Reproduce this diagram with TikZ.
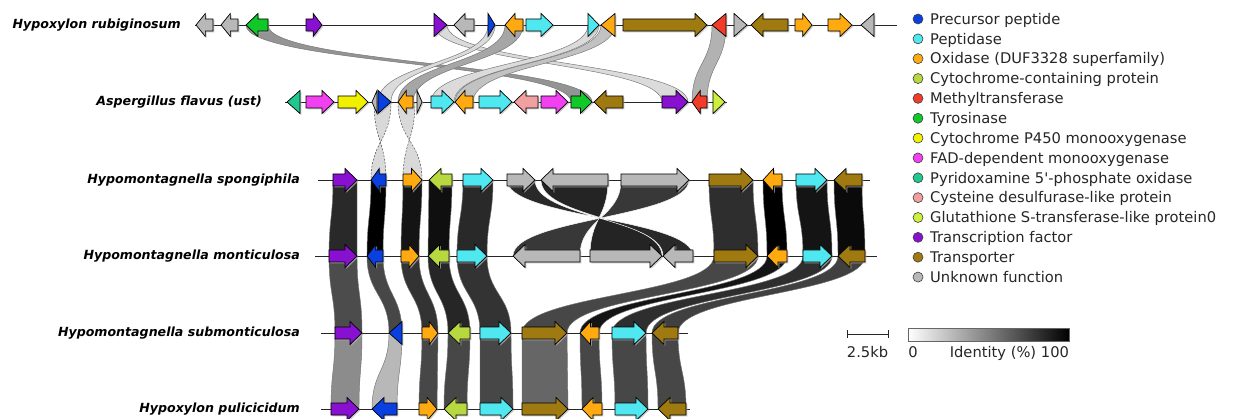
\documentclass[tikz,border=0pt]{standalone}
\usepackage{fontspec}
\setmainfont{DejaVu Sans}
\newfontfamily\nolig{DejaVu Sans}[Ligatures=TeXOff]
\definecolor{cPre}{RGB}{10,64,224}
\definecolor{cPep}{RGB}{80,232,240}
\definecolor{cOx}{RGB}{255,170,16}
\definecolor{cCyt}{RGB}{184,216,64}
\definecolor{cMet}{RGB}{240,60,40}
\definecolor{cTyr}{RGB}{16,200,40}
\definecolor{cPfs}{RGB}{240,240,0}
\definecolor{cFAD}{RGB}{240,64,240}
\definecolor{cPyr}{RGB}{32,200,144}
\definecolor{cCys}{RGB}{240,160,160}
\definecolor{cGst}{RGB}{204,240,60}
\definecolor{cTF}{RGB}{136,16,208}
\definecolor{cTr}{RGB}{158,122,16}
\definecolor{cUnk}{RGB}{184,184,184}
\tikzset{
  genestyle/.style={draw=black, line width=0.7pt, line join=miter},
  geneshadow/.style={fill=black!30, opacity=0.7},
  ribstyle/.style={draw=black!55, line width=0.45pt},
  ribdash/.style={draw=black!70, line width=0.5pt, dashed, dash pattern=on 2pt off 1.5pt},
  trackline/.style={draw=black!85, line width=0.8pt},
  lbl/.style={font=\fontsize{12.6}{14}\selectfont\bfseries\itshape, inner sep=0pt, anchor=east},
  legtext/.style={font=\fontsize{14.7}{16}\selectfont, inner sep=0pt, anchor=base west, text=black!85},
}
% gene arrow: x1, x2, y, dir (1 right / -1 left), colour
\newcommand\genearrow[5]{%
  \pgfmathsetmacro\gL{#2-#1}%
  \pgfmathsetmacro\gh{\gL<=14 ? \gL : min(12,0.55*\gL)}%
  \pgfmathsetmacro\gt{#4>0 ? #2 : #1}%
  \pgfmathsetmacro\gs{#4>0 ? #1 : #2}%
  \pgfmathsetmacro\gm{\gt-(#4)*\gh}%
  \fill[geneshadow, shift={(1.3,1.3)}] (\gs,#3-6) -- (\gm,#3-6) -- (\gm,#3-11.5) -- (\gt,#3) -- (\gm,#3+11.5) -- (\gm,#3+6) -- (\gs,#3+6) -- cycle;
  \filldraw[genestyle, fill=#5] (\gs,#3-6) -- (\gm,#3-6) -- (\gm,#3-11.5) -- (\gt,#3) -- (\gm,#3+11.5) -- (\gm,#3+6) -- (\gs,#3+6) -- cycle;
}
% ribbon: a1, a2, y1, b1, b2, y2, style
\newcommand\rib[7]{%
  \pgfmathsetmacro\ym{(#3+#6)/2}%
  \filldraw[ribstyle,#7] (#1,#3) -- (#2,#3) .. controls (#2,\ym) and (#5,\ym) .. (#5,#6) -- (#4,#6) .. controls (#4,\ym) and (#1,\ym) .. (#1,#3) -- cycle;
}
\begin{document}
\begin{tikzpicture}[x=1pt,y=-1pt]
\useasboundingbox (0,0) rectangle (1233,419);
\fill[white] (0,0) rectangle (1233,419);
\clip (0,0) rectangle (1233,419);

% ---------- ribbons 1 -> 2
\rib{246}{268}{25}{571}{592}{102}{fill=black!42}
\rib{434}{447}{25}{662}{688}{102}{fill=black!14}
\rib{505}{523}{25}{398}{413}{102}{fill=black!35}
\rib{488}{495}{25}{378}{391}{102}{fill=black!14}
\rib{601}{615}{25}{455}{473}{102}{fill=black!24}
\rib{588}{599}{25}{431}{454}{102}{fill=black!14}
\rib{712}{726}{25}{692}{707}{102}{fill=black!30}
% ---------- ribbons 2 -> 3 (inverted, dashed)
\rib{374}{391}{102}{386}{371}{180}{ribdash,fill=black!15}
\rib{398}{415}{102}{422}{403}{180}{ribdash,fill=black!15}
% ---------- ribbons 3 -> 4
\rib{333}{357}{180}{329}{357}{256}{fill=black!84}
\rib{371}{386}{180}{367}{383}{256}{fill=black}
\rib{403}{422}{180}{401}{419}{256}{fill=black!92}
\rib{429}{452}{180}{428}{449}{256}{fill=black!94}
\rib{463}{493}{180}{457}{487}{256}{fill=black!84}
\rib{621}{689}{180}{580}{513}{256}{fill=black!78,draw=white}
\rib{541}{608}{180}{662}{590}{256}{fill=black!86,draw=white}
\rib{507}{535}{180}{693}{663}{256}{fill=black!84,draw=white}
\rib{709}{753}{180}{714}{758}{256}{fill=black!82}
\rib{763}{782}{180}{767}{787}{256}{fill=black}
\rib{796}{827}{180}{803}{832}{256}{fill=black!92}
\rib{834}{862}{180}{838}{865}{256}{fill=black!96}
% ---------- ribbons 4 -> 5
\rib{329}{357}{256}{335}{362}{333}{fill=black!70}
\rib{367}{383}{256}{389}{402}{333}{fill=black!72}
\rib{401}{419}{256}{422}{438}{333}{fill=black!80}
\rib{428}{449}{256}{448}{470}{333}{fill=black!85}
\rib{457}{487}{256}{480}{511}{333}{fill=black!80}
\rib{838}{865}{256}{652}{678}{333}{fill=black!75}
\rib{803}{832}{256}{612}{646}{333}{fill=black!82}
\rib{767}{787}{256}{580}{599}{333}{fill=black!92}
\rib{714}{758}{256}{522}{567}{333}{fill=black!72}
% ---------- ribbons 5 -> 6
\rib{335}{362}{333}{331}{359}{409}{fill=black!45}
\rib{389}{402}{333}{372}{397}{409}{fill=black!28}
\rib{422}{438}{333}{419}{437}{409}{fill=black!72}
\rib{448}{470}{333}{444}{467}{409}{fill=black!72}
\rib{480}{511}{333}{480}{513}{409}{fill=black!72}
\rib{522}{567}{333}{522}{568}{409}{fill=black!60}
\rib{580}{599}{333}{582}{602}{409}{fill=black!72}
\rib{612}{646}{333}{615}{648}{409}{fill=black!72}
\rib{652}{678}{333}{658}{686}{409}{fill=black!72}

% ---------- track lines
\draw[trackline] (195,25) -- (897,25);
\draw[trackline] (285,102) -- (727,102);
\draw[trackline] (318,180) -- (870,180);
\draw[trackline] (315,256) -- (877,256);
\draw[trackline] (321,333) -- (688,333);
\draw[trackline] (321,409) -- (690,409);

% ---------- track 1
\genearrow{196}{213}{25}{-1}{cUnk}
\genearrow{221}{238}{25}{-1}{cUnk}
\genearrow{246}{268}{25}{-1}{cTyr}
\genearrow{306}{322}{25}{1}{cTF}
\genearrow{434}{447}{25}{1}{cTF}
\genearrow{454}{474}{25}{-1}{cUnk}
\genearrow{488}{495}{25}{1}{cPre}
\genearrow{505}{523}{25}{-1}{cOx}
\genearrow{526}{553}{25}{1}{cPep}
\genearrow{588}{599}{25}{1}{cPep}
\genearrow{601}{615}{25}{-1}{cOx}
\genearrow{623}{707}{25}{1}{cTr}
\genearrow{712}{726}{25}{-1}{cMet}
\genearrow{734}{747}{25}{1}{cUnk}
\genearrow{751}{788}{25}{-1}{cTr}
\genearrow{795}{812}{25}{1}{cOx}
\genearrow{828}{852}{25}{1}{cOx}
\genearrow{861}{874}{25}{-1}{cUnk}
% ---------- track 2
\genearrow{287}{300}{102}{-1}{cPyr}
\genearrow{306}{334}{102}{1}{cFAD}
\genearrow{338}{368}{102}{1}{cPfs}
\genearrow{372}{377}{102}{-1}{cUnk}
\genearrow{378}{391}{102}{1}{cPre}
\genearrow{398}{413}{102}{-1}{cOx}
\genearrow{417}{422}{102}{1}{cUnk}
\genearrow{431}{454}{102}{1}{cPep}
\genearrow{455}{473}{102}{-1}{cOx}
\genearrow{479}{512}{102}{1}{cPep}
\genearrow{514}{538}{102}{-1}{cCys}
\genearrow{541}{568}{102}{1}{cFAD}
\genearrow{571}{592}{102}{1}{cTyr}
\genearrow{594}{623}{102}{-1}{cTr}
\genearrow{662}{688}{102}{1}{cTF}
\genearrow{692}{707}{102}{-1}{cMet}
\genearrow{713}{725}{102}{1}{cGst}
% ---------- track 3
\genearrow{333}{357}{180}{1}{cTF}
\genearrow{371}{386}{180}{-1}{cPre}
\genearrow{403}{422}{180}{1}{cOx}
\genearrow{429}{452}{180}{-1}{cCyt}
\genearrow{463}{493}{180}{1}{cPep}
\genearrow{507}{535}{180}{1}{cUnk}
\genearrow{541}{608}{180}{-1}{cUnk}
\genearrow{621}{689}{180}{1}{cUnk}
\genearrow{709}{753}{180}{1}{cTr}
\genearrow{763}{782}{180}{-1}{cOx}
\genearrow{796}{827}{180}{1}{cPep}
\genearrow{834}{862}{180}{-1}{cTr}
% ---------- track 4
\genearrow{329}{357}{256}{1}{cTF}
\genearrow{367}{383}{256}{-1}{cPre}
\genearrow{401}{419}{256}{1}{cOx}
\genearrow{428}{449}{256}{-1}{cCyt}
\genearrow{457}{487}{256}{1}{cPep}
\genearrow{513}{580}{256}{-1}{cUnk}
\genearrow{590}{662}{256}{1}{cUnk}
\genearrow{663}{693}{256}{-1}{cUnk}
\genearrow{714}{758}{256}{1}{cTr}
\genearrow{767}{787}{256}{-1}{cOx}
\genearrow{803}{832}{256}{1}{cPep}
\genearrow{838}{865}{256}{-1}{cTr}
% ---------- track 5
\genearrow{335}{362}{333}{1}{cTF}
\genearrow{389}{402}{333}{-1}{cPre}
\genearrow{422}{438}{333}{1}{cOx}
\genearrow{448}{470}{333}{-1}{cCyt}
\genearrow{480}{511}{333}{1}{cPep}
\genearrow{522}{567}{333}{1}{cTr}
\genearrow{580}{599}{333}{-1}{cOx}
\genearrow{612}{646}{333}{1}{cPep}
\genearrow{652}{678}{333}{-1}{cTr}
% ---------- track 6
\genearrow{331}{359}{409}{1}{cTF}
\genearrow{372}{397}{409}{-1}{cPre}
\genearrow{419}{437}{409}{1}{cOx}
\genearrow{444}{467}{409}{-1}{cCyt}
\genearrow{480}{513}{409}{1}{cPep}
\genearrow{522}{568}{409}{1}{cTr}
\genearrow{582}{602}{409}{-1}{cOx}
\genearrow{615}{648}{409}{1}{cPep}
\genearrow{658}{686}{409}{-1}{cTr}

% ---------- track labels
\node[lbl] (l1) at (181,25) {Hypoxylon rubiginosum};
\node[lbl] (l2) at (262,102) {Aspergillus flavus (ust)};
\node[lbl] (l3) at (300,180) {Hypomontagnella spongiphila};
\node[lbl] (l4) at (300,256) {Hypomontagnella monticulosa};
\node[lbl] (l5) at (300,333) {Hypomontagnella submonticulosa};
\node[lbl] (l6) at (300,409) {Hypoxylon pulicicidum};

% ---------- legend
\foreach \col/\txt [count=\i from 0] in {
  cPre/Precursor peptide,
  cPep/Peptidase,
  cOx/Oxidase (DUF3328 superfamily),
  cCyt/Cytochrome-containing protein,
  cMet/Methyltransferase,
  cTyr/Tyrosinase,
  cPfs/Cytochrome P450 monooxygenase,
  cFAD/FAD-dependent monooxygenase,
  cPyr/Pyridoxamine 5{\nolig\symbol{39}}-phosphate oxidase,
  cCys/Cysteine desulfurase-like protein,
  cGst/Glutathione S-transferase-like protein0,
  cTF/Transcription factor,
  cTr/Transporter,
  cUnk/Unknown function}{
  \pgfmathsetmacro\ly{19+\i*19.85}
  \filldraw[fill=\col, draw=black!75, line width=0.6pt] (918,\ly) circle (5pt);
  \node[legtext] (leg\i) at (930,\ly+5.3) {\txt};
}

% ---------- scale bar and identity bar
\draw[black!85, line width=0.8pt] (847,334) -- (888,334);
\draw[black!85, line width=0.8pt] (847,330) -- (847,338);
\draw[black!85, line width=0.8pt] (888,330) -- (888,338);
\node[legtext, anchor=base] (sb) at (867.5,357) {2.5kb};
\shade[left color=white, right color=black] (908,328) rectangle (1069,341);
\draw[black!60, line width=0.6pt] (908,328) rectangle (1069,341);
\node[legtext, anchor=base] (c0) at (913,357) {0};
\node[legtext, anchor=base] (cid) at (993,357) {Identity (\%)};
\node[legtext, anchor=base] (c100) at (1055,357) {100};
\end{tikzpicture}
\end{document}
